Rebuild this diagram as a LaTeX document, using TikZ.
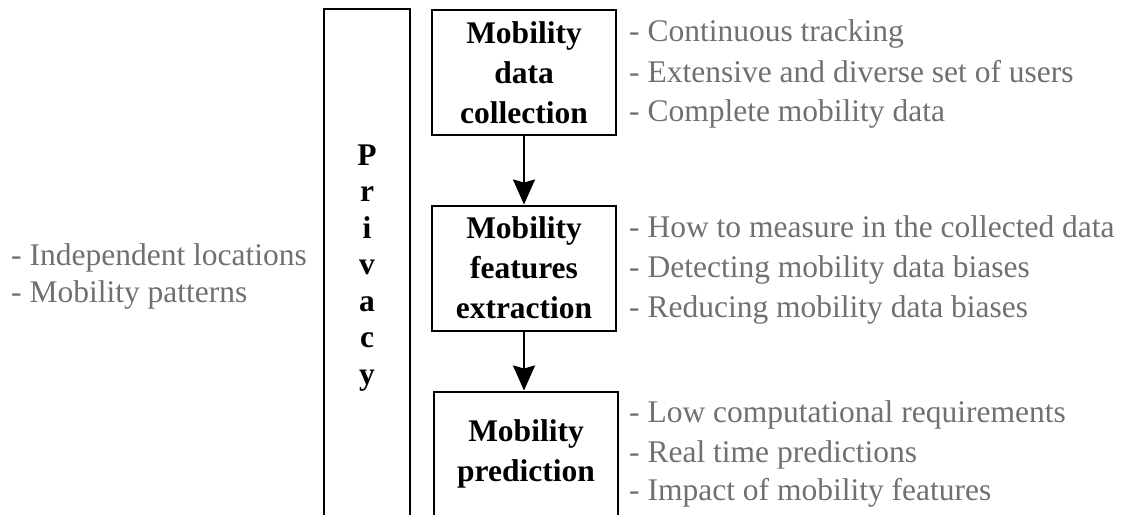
\documentclass[tikz,border=0pt]{standalone}
\usepackage{fontspec}
\setmainfont{Liberation Serif}
\usetikzlibrary{arrows.meta}
\definecolor{notegray}{RGB}{112,112,112}
\tikzset{
  stagebox/.style={draw, line width=2pt, inner sep=0pt, minimum width=184pt, minimum height=125pt,
    align=center, font=\fontsize{31.5}{40}\selectfont\bfseries},
  note/.style={anchor=base west, inner sep=0pt, text=notegray, font=\fontsize{31.5}{38}\selectfont},
  flow/.style={line width=2pt, -{Stealth[width=22pt,length=25pt,inset=3pt]}}
}
\begin{document}
\begin{tikzpicture}[x=1pt,y=-1pt]
\useasboundingbox (0,0) rectangle (1127,514);
\clip (0,0) rectangle (1127,514);
% privacy column
\node[draw, line width=2pt, inner sep=0pt, minimum width=86pt, minimum height=519pt,
  align=center, font=\fontsize{31.5}{36.5}\selectfont\bfseries] (privacy) at (367,268)
  {P\\r\\i\\v\\a\\c\\y};
% stages
\node[stagebox] (collect) at (524,72.5) {Mobility\\data\\collection};
\node[stagebox] (extract) at (524,268) {Mobility\\features\\extraction};
\node[stagebox] (predict) at (526,454) {Mobility\\prediction};
\draw[flow] (collect.south) -- (extract.north);
\draw[flow] (extract.south) -- (extract.south |- predict.north);
% notes
\node[note] (l1) at (11,265) {- Independent locations};
\node[note] (l2) at (11,302) {- Mobility patterns};
\node[note] (a1) at (629,41) {- Continuous tracking};
\node[note] (a2) at (629,82) {- Extensive and diverse set of users};
\node[note] (a3) at (629,121) {- Complete mobility data};
\node[note] (b1) at (629,237) {- How to measure in the collected data};
\node[note] (b2) at (629,277) {- Detecting mobility data biases};
\node[note] (b3) at (629,317) {- Reducing mobility data biases};
\node[note] (c1) at (629,422) {- Low computational requirements};
\node[note] (c2) at (629,462) {- Real time predictions};
\node[note] (c3) at (629,500) {- Impact of mobility features};
\end{tikzpicture}
\end{document}
